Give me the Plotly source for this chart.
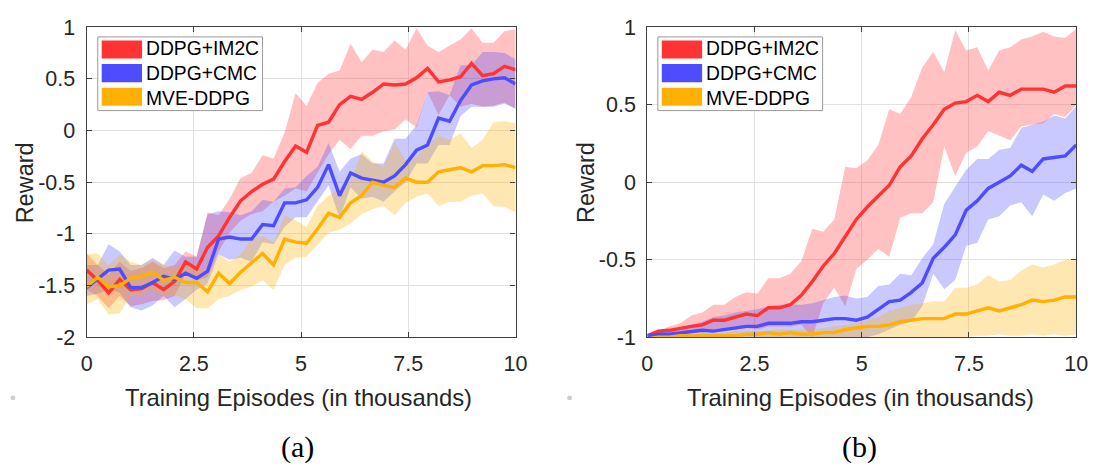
import numpy as np
import plotly.graph_objects as go

W, H = 1100, 466

# Training episodes (thousands), 40 evaluation points
episodes = np.linspace(0, 10, 40)

series_names = ["DDPG+IM2C", "DDPG+CMC", "MVE-DDPG"]
line_colors = ["#FF3333", "#4D4DFF", "#FFB000"]
band_colors = ["rgba(255,51,51,0.3)", "rgba(77,77,255,0.3)", "rgba(255,176,0,0.3)"]

# ---- panel (a): mean reward and spread ----
a_im2c = [-1.35, -1.45, -1.57, -1.44, -1.54, -1.53, -1.47, -1.54, -1.46, -1.27,
          -1.34, -1.13, -1.02, -0.84, -0.68, -0.59, -0.52, -0.47, -0.30, -0.15,
          -0.21, 0.05, 0.08, 0.25, 0.33, 0.30, 0.37, 0.45, 0.44, 0.45,
          0.51, 0.60, 0.47, 0.49, 0.52, 0.65, 0.53, 0.55, 0.62, 0.59]
a_im2c_hi = [-1.19, -1.30, -1.39, -1.27, -1.36, -1.33, -1.27, -1.33, -1.30, -1.17,
             -1.22, -0.79, -0.82, -0.66, -0.46, -0.41, -0.24, -0.27, -0.02, 0.36,
             0.24, 0.46, 0.55, 0.58, 0.84, 0.66, 0.78, 0.76, 0.87, 0.78,
             0.99, 0.82, 0.76, 0.82, 0.88, 0.99, 0.85, 0.85, 0.96, 0.98]
a_im2c_lo = [-1.54, -1.60, -1.72, -1.60, -1.70, -1.68, -1.65, -1.64, -1.60, -1.39,
             -1.45, -1.42, -1.17, -0.99, -0.87, -0.81, -0.78, -0.69, -0.63, -0.56,
             -0.59, -0.41, -0.23, -0.09, -0.18, -0.05, -0.05, -0.01, 0.01, 0.11,
             0.03, 0.37, 0.15, 0.34, 0.23, 0.26, 0.23, 0.24, 0.27, 0.21]

a_cmc = [-1.52, -1.44, -1.35, -1.34, -1.52, -1.52, -1.47, -1.41, -1.44, -1.38,
         -1.43, -1.36, -1.05, -1.03, -1.05, -1.05, -0.91, -0.92, -0.70, -0.70,
         -0.67, -0.55, -0.33, -0.63, -0.41, -0.46, -0.48, -0.50, -0.44, -0.33,
         -0.19, -0.14, 0.12, 0.09, 0.29, 0.44, 0.48, 0.50, 0.51, 0.45]
a_cmc_hi = [-1.30, -1.30, -1.10, -1.17, -1.30, -1.30, -1.23, -1.30, -1.16, -1.22,
            -1.22, -0.81, -0.78, -0.79, -0.82, -0.78, -0.67, -0.69, -0.56, -0.55,
            -0.44, -0.35, -0.12, -0.40, -0.27, -0.23, -0.32, -0.32, -0.08, -0.08,
            0.05, 0.37, 0.38, 0.34, 0.63, 0.63, 0.76, 0.76, 0.75, 0.69]
a_cmc_lo = [-1.60, -1.58, -1.54, -1.57, -1.71, -1.74, -1.69, -1.60, -1.71, -1.63,
            -1.54, -1.48, -1.20, -1.25, -1.23, -1.27, -1.08, -1.10, -0.93, -0.84,
            -0.84, -0.69, -0.53, -0.85, -0.55, -0.66, -0.64, -0.69, -0.59, -0.50,
            -0.32, -0.32, -0.14, -0.14, 0.14, 0.23, 0.23, 0.23, 0.26, 0.21]

a_mve = [-1.51, -1.42, -1.51, -1.50, -1.43, -1.41, -1.37, -1.45, -1.42, -1.47,
         -1.47, -1.56, -1.38, -1.48, -1.37, -1.28, -1.19, -1.30, -1.05, -1.08,
         -1.09, -0.95, -0.80, -0.84, -0.70, -0.63, -0.50, -0.53, -0.55, -0.46,
         -0.50, -0.50, -0.40, -0.38, -0.36, -0.40, -0.34, -0.34, -0.33, -0.36]
a_mve_hi = [-1.20, -1.19, -1.30, -1.20, -1.27, -1.30, -1.25, -1.30, -1.33, -1.27,
            -1.30, -1.39, -1.20, -1.27, -1.20, -1.05, -1.02, -1.08, -0.82, -0.87,
            -0.93, -0.73, -0.63, -0.56, -0.49, -0.20, -0.30, -0.35, -0.11, -0.29,
            -0.26, -0.14, -0.05, -0.09, -0.03, -0.17, -0.09, 0.08, 0.09, 0.07]
a_mve_lo = [-1.68, -1.63, -1.78, -1.77, -1.60, -1.60, -1.54, -1.60, -1.60, -1.63,
            -1.72, -1.72, -1.63, -1.60, -1.54, -1.51, -1.45, -1.54, -1.30, -1.23,
            -1.22, -1.11, -0.99, -0.96, -0.90, -0.81, -0.76, -0.73, -0.82, -0.70,
            -0.64, -0.61, -0.73, -0.69, -0.69, -0.63, -0.61, -0.73, -0.74, -0.79]

# ---- panel (b): mean reward and spread ----
b_im2c = [-0.99, -0.96, -0.955, -0.94, -0.93, -0.92, -0.89, -0.89, -0.87, -0.85,
          -0.86, -0.81, -0.81, -0.79, -0.73, -0.64, -0.54, -0.46, -0.35, -0.24,
          -0.16, -0.09, -0.02, 0.10, 0.17, 0.28, 0.37, 0.47, 0.51, 0.52,
          0.56, 0.52, 0.58, 0.56, 0.60, 0.60, 0.60, 0.58, 0.62, 0.62]
b_im2c_hi = [-0.99, -0.96, -0.93, -0.91, -0.86, -0.84, -0.79, -0.79, -0.74, -0.71,
             -0.72, -0.62, -0.62, -0.59, -0.51, -0.30, -0.32, -0.24, 0.10, 0.09,
             0.14, 0.24, 0.47, 0.44, 0.55, 0.74, 0.84, 0.71, 0.98, 0.85,
             0.87, 0.72, 0.85, 0.87, 0.92, 0.94, 0.97, 0.94, 0.93, 0.99]
b_im2c_lo = [-1.00, -0.99, -0.98, -0.97, -0.97, -0.96, -0.96, -0.95, -0.95, -0.94,
             -0.95, -0.93, -0.93, -0.93, -0.92, -1.00, -0.78, -0.68, -0.80, -0.56,
             -0.50, -0.43, -0.48, -0.23, -0.20, -0.20, -0.13, 0.23, 0.04, 0.19,
             0.23, 0.33, 0.30, 0.27, 0.36, 0.37, 0.38, 0.44, 0.42, 0.50]

b_cmc = [-0.99, -0.98, -0.98, -0.97, -0.96, -0.955, -0.96, -0.95, -0.94, -0.93,
         -0.93, -0.91, -0.91, -0.91, -0.90, -0.90, -0.89, -0.88, -0.88, -0.89,
         -0.87, -0.82, -0.77, -0.76, -0.71, -0.65, -0.49, -0.42, -0.34, -0.18,
         -0.12, -0.04, 0.00, 0.04, 0.11, 0.07, 0.15, 0.16, 0.17, 0.24]
b_cmc_hi = [-0.99, -0.97, -0.95, -0.94, -0.92, -0.90, -0.87, -0.86, -0.84, -0.83,
            -0.82, -0.80, -0.79, -0.79, -0.79, -0.78, -0.76, -0.74, -0.73, -0.75,
            -0.74, -0.67, -0.66, -0.59, -0.60, -0.49, -0.40, -0.14, -0.03, 0.08,
            0.15, 0.15, 0.21, 0.22, 0.35, 0.37, 0.39, 0.43, 0.41, 0.49]
b_cmc_lo = [-1.00, -1.00, -1.00, -1.00, -1.00, -1.00, -1.00, -1.00, -1.00, -1.00,
            -1.00, -1.00, -1.00, -1.00, -1.00, -1.00, -1.00, -1.00, -1.00, -1.00,
            -1.00, -0.98, -0.95, -0.92, -0.90, -0.80, -0.59, -0.69, -0.63, -0.41,
            -0.39, -0.24, -0.22, -0.15, -0.13, -0.22, -0.08, -0.12, -0.07, -0.04]

b_mve = [-1.01, -1.00, -1.00, -0.99, -0.99, -0.99, -0.99, -0.99, -0.99, -0.98,
         -0.98, -0.97, -0.98, -0.97, -0.98, -0.98, -0.97, -0.97, -0.95, -0.94,
         -0.93, -0.93, -0.92, -0.90, -0.89, -0.88, -0.88, -0.88, -0.85, -0.85,
         -0.83, -0.81, -0.83, -0.81, -0.79, -0.76, -0.77, -0.76, -0.74, -0.74]
b_mve_hi = [-0.99, -0.99, -0.98, -0.98, -0.98, -0.97, -0.97, -0.97, -0.96, -0.96,
            -0.96, -0.96, -0.95, -0.95, -0.95, -0.95, -0.94, -0.93, -0.92, -0.91,
            -0.89, -0.87, -0.83, -0.81, -0.79, -0.78, -0.77, -0.77, -0.68, -0.68,
            -0.66, -0.60, -0.64, -0.63, -0.57, -0.53, -0.55, -0.53, -0.50, -0.49]
b_mve_lo = [-1.03, -1.03, -1.03, -1.03, -1.03, -1.03, -1.03, -1.03, -1.03, -1.03,
            -1.03, -1.03, -1.03, -1.03, -1.03, -1.03, -1.03, -1.03, -1.03, -1.03,
            -1.03, -1.03, -1.03, -1.03, -1.02, -1.02, -1.02, -1.02, -1.00, -1.00,
            -0.99, -0.99, -0.98, -0.99, -0.99, -0.98, -0.99, -0.98, -0.99, -0.98]

# ---- tick labels ----
x_tick_vals = [0, 2.5, 5, 7.5, 10]
x_tick_text = ["0", "2.5", "5", "7.5", "10"]
a_tick_vals = [-2, -1.5, -1, -0.5, 0, 0.5, 1]
a_tick_text = ["-2", "-1.5", "-1", "-0.5", "0", "0.5", "1"]
b_tick_vals = [-1, -0.5, 0, 0.5, 1]
b_tick_text = ["-1", "-0.5", "0", "0.5", "1"]

SANS = "Arial, Liberation Sans, Helvetica, sans-serif"
SERIF = "Times New Roman, Liberation Serif, serif"

fig = go.Figure()


def add_panel(xa, ya, means, his, los):
    xs = list(episodes)
    for hi, lo, c in zip(his, los, band_colors):
        fig.add_trace(go.Scatter(
            x=xs + xs[::-1], y=list(hi) + list(lo[::-1]),
            fill="toself", fillcolor=c, mode="lines", line=dict(width=0),
            hoverinfo="skip", showlegend=False, xaxis=xa, yaxis=ya))
    for m, c, n in zip(means, line_colors, series_names):
        fig.add_trace(go.Scatter(
            x=xs, y=m, mode="lines", name=n,
            line=dict(color=c, width=3.4), showlegend=False,
            xaxis=xa, yaxis=ya))


add_panel("x", "y", [a_im2c, a_cmc, a_mve],
          [a_im2c_hi, a_cmc_hi, a_mve_hi], [a_im2c_lo, a_cmc_lo, a_mve_lo])
add_panel("x2", "y2", [b_im2c, b_cmc, b_mve],
          [b_im2c_hi, b_cmc_hi, b_mve_hi], [b_im2c_lo, b_cmc_lo, b_mve_lo])

axis_style = dict(
    showline=True, linecolor="#404040", linewidth=1.2, mirror="ticks",
    ticks="inside", ticklen=5, tickwidth=1, tickcolor="#404040",
    showgrid=True, gridcolor="#E2E2E2", gridwidth=1, zeroline=False,
    tickfont=dict(family=SANS, size=21.5, color="#262626"), fixedrange=True,
)

y_dom = [1 - 344 / H, 1 - 17 / H]
fig.update_layout(
    width=W, height=H, margin=dict(l=0, r=0, t=0, b=0),
    paper_bgcolor="white", plot_bgcolor="white", showlegend=False,
    xaxis=dict(axis_style, domain=[82 / W, 518 / W], range=[0, 10], anchor="y",
               tickvals=x_tick_vals, ticktext=x_tick_text, ticklabelstandoff=7),
    yaxis=dict(axis_style, domain=y_dom, range=[-2, 1], anchor="x",
               tickvals=a_tick_vals, ticktext=a_tick_text, ticklabelstandoff=6),
    xaxis2=dict(axis_style, domain=[652 / W, 1088 / W], range=[0, 10], anchor="y2",
                tickvals=x_tick_vals, ticktext=x_tick_text, ticklabelstandoff=7),
    yaxis2=dict(axis_style, domain=y_dom, range=[-1, 1], anchor="x2",
                tickvals=b_tick_vals, ticktext=b_tick_text, ticklabelstandoff=6),
)


def px(x):
    return x / W


def py(y):
    return 1 - y / H


annotations = []
shapes = []

# axis titles and panel captions
for cx_title, cx_ylab, cap in [(297, 19, "(a)"), (869, 589, "(b)")]:
    annotations.append(dict(x=px(cx_title), y=py(407), xref="paper", yref="paper",
                            text="Training Episodes (in thousands)", showarrow=False,
                            xanchor="center", yanchor="middle",
                            font=dict(family=SANS, size=23.8, color="#262626")))
    annotations.append(dict(x=px(cx_ylab), y=py(181), xref="paper", yref="paper",
                            text="Reward", textangle=-90, showarrow=False,
                            xanchor="center", yanchor="middle",
                            font=dict(family=SANS, size=23.5, color="#262626")))
    annotations.append(dict(x=px(cx_title - 1), y=py(460), xref="paper", yref="paper",
                            text=cap, showarrow=False, xanchor="center", yanchor="middle",
                            font=dict(family=SERIF, size=30, color="black")))

# legend boxes drawn inside each panel: swatches plus one stacked label block
for left in [93.3, 662.7]:
    shapes.append(dict(type="rect", xref="paper", yref="paper", layer="above",
                       x0=px(left), x1=px(left + 167.5), y0=py(105), y1=py(27.3),
                       line=dict(color="#9A9A9A", width=1), fillcolor="white"))
    for i, col in enumerate(line_colors):
        top = 31 + 25 * i
        shapes.append(dict(type="rect", xref="paper", yref="paper", layer="above",
                           x0=px(left + 4), x1=px(left + 45), y0=py(top + 19), y1=py(top),
                           line=dict(width=0), fillcolor=col))
    annotations.append(dict(x=px(left + 47), y=py(65.8), xref="paper", yref="paper",
                            text="<br>".join(series_names), showarrow=False,
                            xanchor="left", yanchor="middle", align="left",
                            font=dict(family=SANS, size=19.3, color="black")))

# small grey marks at the lower-left of each panel
for cx in [7, 573]:
    shapes.append(dict(type="circle", xref="paper", yref="paper",
                       x0=px(cx - 2.5), x1=px(cx + 2.5), y0=py(410.5), y1=py(405.5),
                       line=dict(width=0), fillcolor="#CFCFC6"))

fig.update_layout(annotations=annotations, shapes=shapes)

fig.write_html("out.html")
